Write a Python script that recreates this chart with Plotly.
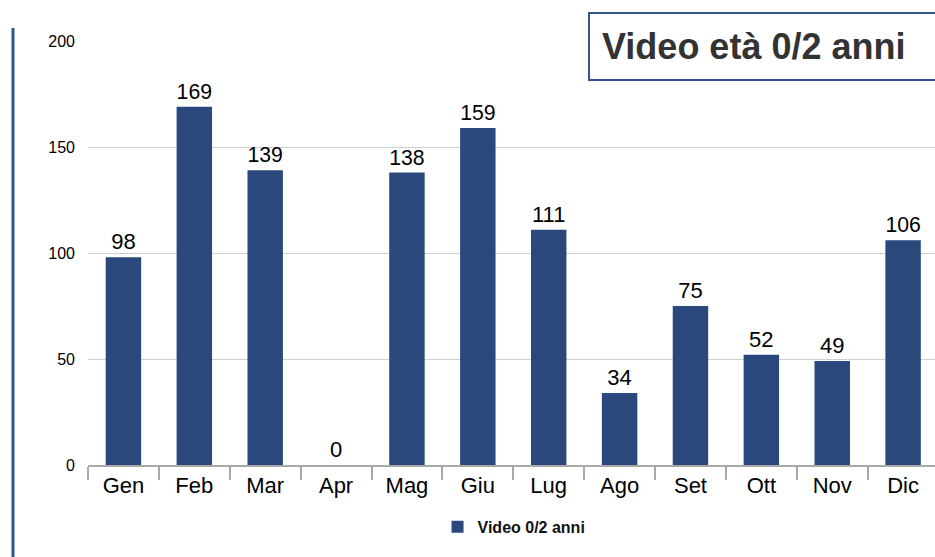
import plotly.graph_objects as go

MONTHS = ["Gen", "Feb", "Mar", "Apr", "Mag", "Giu", "Lug", "Ago", "Set", "Ott", "Nov", "Dic"]
VIDEO_0_2 = [98, 169, 139, 0, 138, 159, 111, 34, 75, 52, 49, 106]
Y_TICKS = [0, 50, 100, 150, 200]

BAR = "#2a487c"
BORDER = "#34548c"
GRID = "#cfcfcf"
AXIS = "#a8a8a8"
FONT = "Liberation Sans, Arial, Helvetica, sans-serif"

fig = go.Figure()
fig.add_trace(
    go.Bar(
        x=MONTHS,
        y=VIDEO_0_2,
        name="Video 0/2 anni",
        marker=dict(color=BAR, line=dict(width=0)),
        width=0.5,
        text=[str(v) for v in VIDEO_0_2],
        textposition="outside",
        textfont=dict(size=22, color="#000000"),
        cliponaxis=False,
    )
)

fig.update_layout(
    width=935,
    height=557,
    paper_bgcolor="white",
    plot_bgcolor="white",
    font=dict(family=FONT, color="#000000"),
    margin=dict(l=88, r=0, t=41, b=92),
    showlegend=True,
    legend=dict(
        orientation="h",
        x=0.503,
        xanchor="center",
        y=-0.146,
        yanchor="middle",
        font=dict(size=16, color="#111111", family=FONT, weight="bold"),
        itemwidth=30,
    ),
    xaxis=dict(
        range=[-0.5, 11.45],
        showline=True,
        linecolor=AXIS,
        linewidth=2,
        ticks="outside",
        tickson="boundaries",
        ticklen=13,
        tickcolor=AXIS,
        tickwidth=1.5,
        tickfont=dict(size=22, color="#000000"),
        showgrid=False,
    ),
    yaxis=dict(
        range=[0, 200],
        tickvals=Y_TICKS,
        gridcolor=GRID,
        gridwidth=1,
        showline=False,
        zeroline=False,
        tickfont=dict(size=16, color="#000000"),
        ticklabelstandoff=12,
    ),
    shapes=[
        dict(
            type="line",
            xref="paper",
            yref="paper",
            x0=-75 / 847,
            x1=-75 / 847,
            y0=437 / 424,
            y1=-92 / 424,
            line=dict(color=BORDER, width=3),
        )
    ],
    annotations=[
        dict(
            text="<b>Video età 0/2 anni</b>",
            xref="paper",
            yref="paper",
            x=500 / 847,
            y=(465 - 12) / 424,
            xanchor="left",
            yanchor="top",
            showarrow=False,
            width=330,
            align="left",
            font=dict(size=36, color="#333333", family=FONT),
            bordercolor=BORDER,
            borderwidth=2,
            borderpad=12,
            bgcolor="white",
        )
    ],
)

fig.write_html(
    "out.html",
    config={"displayModeBar": False},
    post_script="document.body.style.margin='0';",
)
